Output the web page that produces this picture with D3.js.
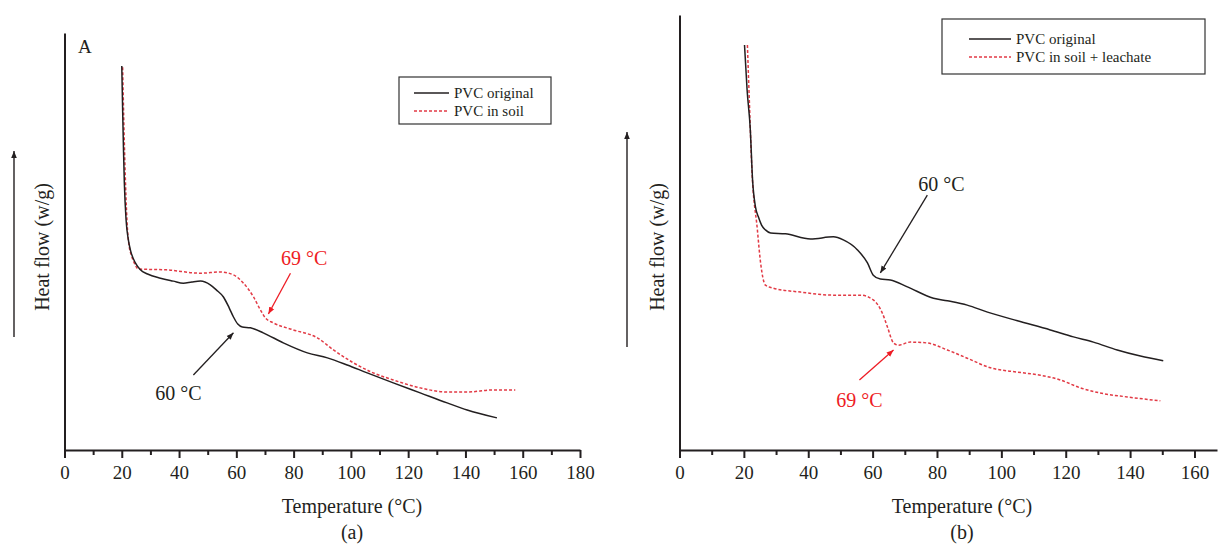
<!DOCTYPE html>
<html>
<head>
<meta charset="utf-8">
<script src="https://cdn.jsdelivr.net/npm/d3@7"></script>
<style>
  html, body { margin: 0; padding: 0; background: #fff; }
  svg { display: block; }
  text { font-family: "Liberation Serif", "Times New Roman", serif; fill: #231f20; }
</style>
</head>
<body>
<svg id="chart" width="1219" height="545"></svg>
<script>
// ---------- DATA ----------
// Panel (a)
const tempA_original = [20.0, 20.3, 20.6, 20.9, 21.5, 22.3, 23.0, 24.8, 26.5, 29.0, 33.5, 38.0, 41.5, 44.5, 47.5, 50.9, 53.0, 55.5, 57.5, 59.0, 60.5, 62.1, 64.9, 69.4, 76.4, 84.8, 91.8, 98.7, 105.7, 114.8, 124.2, 133.6, 140.6, 151.0];
const flowA_original = [9.21, 8.15, 7.19, 6.40, 5.52, 5.04, 4.80, 4.48, 4.32, 4.22, 4.12, 4.05, 4.00, 4.03, 4.05, 3.96, 3.84, 3.67, 3.41, 3.19, 3.02, 2.95, 2.93, 2.81, 2.57, 2.33, 2.21, 2.04, 1.85, 1.61, 1.37, 1.13, 0.96, 0.77];
const tempA_soil = [20.3, 20.7, 21.3, 22.0, 22.5, 23.3, 24.4, 25.8, 35.6, 47.5, 54.4, 59.0, 62.5, 66.0, 68.4, 70.1, 72.9, 79.9, 88.3, 93.9, 100.9, 107.8, 114.8, 124.2, 133.6, 140.6, 149.7, 157.4];
const flowA_soil = [9.18, 7.91, 6.40, 5.28, 4.92, 4.68, 4.48, 4.34, 4.32, 4.24, 4.27, 4.20, 4.00, 3.67, 3.36, 3.17, 3.05, 2.88, 2.69, 2.40, 2.09, 1.85, 1.68, 1.49, 1.39, 1.39, 1.44, 1.44];

// Panel (b)
const tempB_original = [20.2, 21.0, 22.0, 22.7, 23.6, 24.5, 25.5, 26.7, 28.3, 32.9, 40.7, 47.8, 50.9, 55.3, 58.4, 60.2, 62.4, 65.5, 70.8, 78.9, 83.2, 89.4, 95.7, 105.0, 115.2, 122.4, 128.6, 136.0, 143.2, 150.3];
const flowB_original = [9.31, 8.28, 7.36, 6.21, 5.59, 5.36, 5.17, 5.06, 4.99, 4.97, 4.85, 4.90, 4.83, 4.60, 4.30, 4.02, 3.93, 3.91, 3.75, 3.49, 3.43, 3.33, 3.17, 2.97, 2.76, 2.60, 2.48, 2.30, 2.16, 2.05];
const tempB_leach = [21.1, 21.8, 22.4, 24.2, 25.2, 26.7, 29.2, 37.6, 47.8, 56.2, 60.2, 63.0, 64.6, 66.5, 68.0, 71.7, 77.0, 83.2, 89.4, 96.6, 105.0, 112.1, 118.3, 124.5, 130.7, 139.1, 149.4];
const flowB_leach = [9.31, 7.82, 6.60, 5.06, 4.30, 3.79, 3.72, 3.63, 3.56, 3.56, 3.45, 3.15, 2.83, 2.46, 2.41, 2.48, 2.46, 2.30, 2.11, 1.89, 1.79, 1.72, 1.61, 1.43, 1.31, 1.22, 1.13];

// Tick labels
const xTicksA = [0, 20, 40, 60, 80, 100, 120, 140, 160, 180];
const xMinorA = [10, 30, 50, 70, 90, 110, 130, 150, 170];
const xTicksB = [0, 20, 40, 60, 80, 100, 120, 140, 160];
const xMinorB = [10, 30, 50, 70, 90, 110, 130, 150];

const legendA = ["PVC original", "PVC in soil"];
const legendB = ["PVC original", "PVC in soil + leachate"];

// Annotations [label, textT, textFlow, arrowFromT, arrowFromFlow, arrowToT, arrowToFlow, colorKey]
const annotA = [
  ["69 °C", 83.7, 4.44, 78.9, 4.24, 71.2, 3.26, "red"],
  ["60 °C", 39.8, 1.20, 45.0, 1.80, 59.0, 2.81, "black"]
];
const annotB = [
  ["60 °C", 81.4, 5.95, 77.0, 5.86, 62.4, 4.07, "black"],
  ["69 °C", 55.9, 0.99, 55.9, 1.61, 66.5, 2.30, "red"]
];

// ---------- DRAWING ----------
const BLACK = "#231f20";
const RED_LINE = "#e23a45";
const RED_TEXT = "#ee1c25";
const FONT = '"Liberation Serif", "Times New Roman", serif';

const svg = d3.select("#chart");
const defs = svg.append("defs");
function marker(id, color) {
  defs.append("marker").attr("id", id)
    .attr("viewBox", "0 0 10 10").attr("refX", 10).attr("refY", 5)
    .attr("markerWidth", 7).attr("markerHeight", 7).attr("markerUnits", "userSpaceOnUse")
    .attr("orient", "auto")
    .append("path").attr("d", "M0,1 L10,5 L0,9 Z").attr("fill", color);
}
marker("arrBlack", BLACK);
marker("arrRed", RED_TEXT);
marker("arrAxis", BLACK);

function panel(cfg) {
  const g = svg.append("g");
  const x = d3.scaleLinear().domain(cfg.xDomain).range(cfg.xRange);
  const y = d3.scaleLinear().domain([0, 10]).range([450, cfg.yTop]);

  // axes
  const xAxis = d3.axisBottom(x).tickValues(cfg.ticks).tickSize(8).tickSizeOuter(0).tickPadding(8)
    .tickFormat(d3.format("d"));
  const gx = g.append("g").attr("transform", "translate(0,450)").call(xAxis);
  gx.select(".domain").attr("stroke", BLACK).attr("stroke-width", 2);
  gx.selectAll(".tick line").attr("stroke", BLACK).attr("stroke-width", 2);
  gx.selectAll(".tick text").attr("font-family", FONT).attr("font-size", 19).attr("fill", BLACK);
  const xMinor = d3.axisBottom(x).tickValues(cfg.minor).tickSize(5).tickSizeOuter(0).tickFormat("");
  const gm = g.append("g").attr("transform", "translate(0,450)").call(xMinor);
  gm.select(".domain").remove();
  gm.selectAll(".tick line").attr("stroke", BLACK).attr("stroke-width", 2);

  const yAxis = d3.axisLeft(y).tickValues([]).tickSizeOuter(0);
  const gy = g.append("g").attr("transform", `translate(${cfg.xRange[0]},0)`).call(yAxis);
  gy.select(".domain").attr("stroke", BLACK).attr("stroke-width", 2);

  // axis titles
  g.append("text").attr("x", cfg.xTitleX).attr("y", 513).attr("text-anchor", "middle")
    .attr("font-size", 20).text("Temperature (°C)");
  g.append("text").attr("x", cfg.xTitleX).attr("y", 539).attr("text-anchor", "middle")
    .attr("font-size", 20).text(cfg.sub);
  g.append("text").attr("transform", `translate(${cfg.yLabelX},247) rotate(-90)`)
    .attr("text-anchor", "middle").attr("font-size", 20).text("Heat flow (w/g)");
  g.append("line").attr("x1", cfg.arrowX).attr("x2", cfg.arrowX)
    .attr("y1", cfg.arrowY[0]).attr("y2", cfg.arrowY[1])
    .attr("stroke", BLACK).attr("stroke-width", 1.4).attr("marker-end", "url(#arrAxis)");

  // curves
  const line = d3.line().x(d => x(d[0])).y(d => y(d[1])).curve(d3.curveMonotoneX);
  const s1 = cfg.t1.map((t, i) => [t, cfg.f1[i]]);
  const s2 = cfg.t2.map((t, i) => [t, cfg.f2[i]]);
  g.append("path").datum(s2).attr("d", line).attr("fill", "none")
    .attr("stroke", RED_LINE).attr("stroke-width", 1.5).attr("stroke-dasharray", "3,2");
  g.append("path").datum(s1).attr("d", line).attr("fill", "none")
    .attr("stroke", BLACK).attr("stroke-width", 1.5);

  // annotations
  cfg.annot.forEach(a => {
    const col = a[7] === "red" ? RED_TEXT : BLACK;
    g.append("text").attr("x", x(a[1])).attr("y", y(a[2])).attr("text-anchor", "middle")
      .attr("font-size", 20).style("fill", col).text(a[0]);
    g.append("line").attr("x1", x(a[3])).attr("y1", y(a[4])).attr("x2", x(a[5])).attr("y2", y(a[6]))
      .attr("stroke", col).attr("stroke-width", 1.3)
      .attr("marker-end", a[7] === "red" ? "url(#arrRed)" : "url(#arrBlack)");
  });

  // legend
  const L = cfg.legend;
  g.append("rect").attr("x", L.x).attr("y", L.y).attr("width", L.w).attr("height", L.h)
    .attr("fill", "#fff").attr("stroke", "#333").attr("stroke-width", 1.2);
  cfg.legendLabels.forEach((lab, i) => {
    const yy = L.y + L.row0 + i * L.step;
    g.append("line").attr("x1", L.lx0).attr("x2", L.lx1).attr("y1", yy).attr("y2", yy)
      .attr("stroke", i === 0 ? BLACK : RED_LINE).attr("stroke-width", 1.5)
      .attr("stroke-dasharray", i === 0 ? null : "3,2");
    g.append("text").attr("x", L.tx).attr("y", yy + 5).attr("font-size", 15).text(lab);
  });

  if (cfg.letter) {
    g.append("text").attr("x", 78).attr("y", 53).attr("font-size", 19).text(cfg.letter);
  }
}

panel({
  xDomain: [0, 180], xRange: [64.5, 580], yTop: 33,
  ticks: xTicksA, minor: xMinorA,
  t1: tempA_original, f1: flowA_original, t2: tempA_soil, f2: flowA_soil,
  annot: annotA, legendLabels: legendA,
  legend: { x: 399, y: 77, w: 152, h: 47, row0: 16, step: 18, lx0: 414, lx1: 449, tx: 454 },
  xTitleX: 352, sub: "(a)", yLabelX: 49, arrowX: 14, arrowY: [337, 151], letter: "A"
});

panel({
  xDomain: [0, 167], xRange: [679.5, 1217], yTop: 15,
  ticks: xTicksB, minor: xMinorB,
  t1: tempB_original, f1: flowB_original, t2: tempB_leach, f2: flowB_leach,
  annot: annotB, legendLabels: legendB,
  legend: { x: 942, y: 19, w: 263, h: 55, row0: 20, step: 18, lx0: 969, lx1: 1011, tx: 1016 },
  xTitleX: 962, sub: "(b)", yLabelX: 664, arrowX: 627, arrowY: [347, 132], letter: null
});
</script>
</body>
</html>
